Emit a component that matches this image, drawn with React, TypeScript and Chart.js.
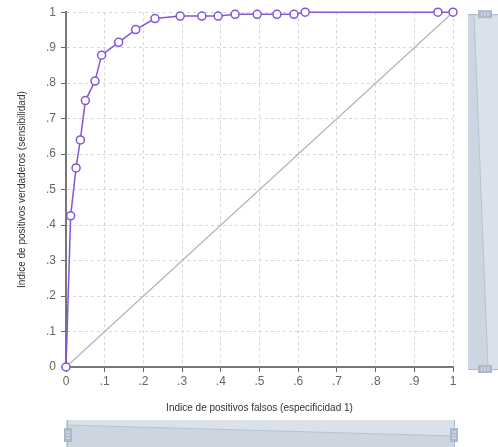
import React, { useEffect, useRef } from "react";
import { Chart, registerables } from "chart.js";

Chart.register(...registerables);

const fpr = [0, 0.012, 0.026, 0.037, 0.05, 0.075, 0.092, 0.136, 0.18, 0.23, 0.295, 0.351, 0.393, 0.437, 0.494, 0.545, 0.589, 0.618, 0.961, 1.0];
const tpr = [0, 0.426, 0.561, 0.64, 0.751, 0.806, 0.879, 0.915, 0.951, 0.982, 0.989, 0.989, 0.989, 0.994, 0.994, 0.994, 0.994, 1.0, 1.0, 1.0];
const diagX = [0, 1];
const diagY = [0, 1];
const xTitle = "Indice de positivos falsos (especificidad 1)";
const yTitle = "Indice de positivos verdaderos (sensibilidad)";

const fmt = (v: number) => {
  const r = Math.round(v * 10);
  if (r === 0) return "0";
  if (r === 10) return "1";
  return "." + r;
};

const FONT = "'Liberation Sans', Arial, sans-serif";

const sliderPlugin = {
  id: "sliders",
  afterDraw(chart: any) {
    const ctx = chart.ctx as CanvasRenderingContext2D;
    const area = chart.chartArea;
    ctx.save();
    // right slider
    const rx = area.right + 15;
    const rTop = area.top + 2;
    const rBot = area.bottom + 2;
    ctx.fillStyle = "#dbe1ea";
    ctx.fillRect(rx, rTop, 40, rBot - rTop);
    ctx.fillStyle = "#cdd5e0";
    ctx.beginPath();
    ctx.moveTo(rx, rTop);
    ctx.lineTo(rx + 6, rTop);
    ctx.lineTo(rx + 20, rBot);
    ctx.lineTo(rx, rBot);
    ctx.closePath();
    ctx.fill();
    ctx.strokeStyle = "#b9c3d1";
    ctx.lineWidth = 1;
    ctx.beginPath();
    ctx.moveTo(rx + 6, rTop);
    ctx.lineTo(rx + 20, rBot);
    ctx.stroke();
    ctx.strokeStyle = "#a9b7ca";
    ctx.beginPath();
    ctx.moveTo(rx, rTop + 0.5);
    ctx.lineTo(rx + 40, rTop + 0.5);
    ctx.moveTo(rx, rBot + 0.5);
    ctx.lineTo(rx + 40, rBot + 0.5);
    ctx.stroke();
    const drawHHandle = (cx: number, cy: number) => {
      ctx.fillStyle = "#aab9cd";
      ctx.fillRect(cx - 7, cy - 4, 14, 8);
      ctx.fillStyle = "#e6ebf2";
      for (let i = -1; i <= 1; i++) ctx.fillRect(cx + i * 3 - 0.5, cy - 2, 1, 4);
    };
    drawHHandle(rx + 17, rTop);
    drawHHandle(rx + 17, rBot);

    // bottom slider
    const bx0 = area.left;
    const bx1 = area.right + 1;
    const bTop = 420;
    const bBot = 460;
    ctx.fillStyle = "#dbe1ea";
    ctx.fillRect(bx0, bTop, bx1 - bx0, bBot - bTop);
    ctx.fillStyle = "#cdd5e0";
    ctx.beginPath();
    ctx.moveTo(bx0, bTop + 5);
    ctx.lineTo(bx1, bTop + 16);
    ctx.lineTo(bx1, bBot);
    ctx.lineTo(bx0, bBot);
    ctx.closePath();
    ctx.fill();
    ctx.strokeStyle = "#b9c3d1";
    ctx.beginPath();
    ctx.moveTo(bx0, bTop + 5);
    ctx.lineTo(bx1, bTop + 16);
    ctx.stroke();
    ctx.strokeStyle = "#a9b7ca";
    ctx.beginPath();
    ctx.moveTo(bx0 + 1.5, bTop);
    ctx.lineTo(bx0 + 1.5, bBot);
    ctx.moveTo(bx1 + 0.5, bTop);
    ctx.lineTo(bx1 + 0.5, bBot);
    ctx.stroke();
    const drawVHandle = (cx: number, cy: number) => {
      ctx.fillStyle = "#aab9cd";
      ctx.fillRect(cx - 4, cy - 7, 8, 14);
      ctx.fillStyle = "#e6ebf2";
      for (let i = -1; i <= 1; i++) ctx.fillRect(cx - 2, cy + i * 3 - 0.5, 4, 1);
    };
    drawVHandle(bx0 + 2, 435);
    drawVHandle(bx1, 435);
    ctx.restore();
  },
};

export default function App() {
  const ref = useRef<HTMLCanvasElement | null>(null);
  useEffect(() => {
    if (!ref.current) return;
    const roc = fpr.map((x, i) => ({ x, y: tpr[i] }));
    const diag = diagX.map((x, i) => ({ x, y: diagY[i] }));
    const chart = new Chart(ref.current, {
      type: "scatter",
      data: {
        datasets: [
          {
            data: roc,
            showLine: true,
            borderColor: "#8356d6",
            backgroundColor: "#ffffff",
            borderWidth: 1.5,
            pointRadius: 4,
            pointBorderWidth: 1.5,
            pointBorderColor: "#8356d6",
            pointBackgroundColor: "#ffffff",
            clip: false,
          } as any,
          {
            data: diag,
            showLine: true,
            borderColor: "#b3b3b3",
            borderWidth: 1.2,
            pointRadius: 0,
            clip: false,
          } as any,
        ],
      },
      options: {
        animation: false,
        responsive: true,
        maintainAspectRatio: false,
        layout: { padding: { left: 0, right: 45, top: 12, bottom: 32 } },
        plugins: { legend: { display: false }, tooltip: { enabled: false } },
        scales: {
          x: {
            type: "linear",
            min: 0,
            max: 1,
            afterFit: (s: any) => {
              s.height = 48;
            },
            ticks: {
              stepSize: 0.1,
              callback: (v: any) => fmt(Number(v)),
              color: "#666",
              font: { size: 12, family: FONT },
              padding: 2,
              maxRotation: 0,
            },
            grid: {
              color: "#d6d6d6",
              tickColor: "#666",
              tickLength: 5,
              tickBorderDash: [],
            },
            border: { color: "#777", width: 2, dash: [3, 3] },
            title: {
              display: true,
              text: xTitle,
              color: "#333",
              font: { size: 10, family: FONT },
              padding: { top: 0, bottom: 1 },
            },
          },
          y: {
            type: "linear",
            min: 0,
            max: 1,
            afterFit: (s: any) => {
              s.width = 66;
            },
            ticks: {
              stepSize: 0.1,
              callback: (v: any) => fmt(Number(v)),
              color: "#666",
              font: { size: 12, family: FONT },
              padding: 5,
            },
            grid: {
              color: "#d6d6d6",
              tickColor: "#666",
              tickLength: 5,
              tickBorderDash: [],
            },
            border: { color: "#777", width: 2, dash: [3, 3] },
            title: {
              display: true,
              text: yTitle,
              color: "#333",
              font: { size: 10, family: FONT },
              padding: { top: 16, bottom: 0 },
            },
          },
        },
      } as any,
      plugins: [sliderPlugin],
    });
    return () => chart.destroy();
  }, []);
  return (
    <div style={{ position: "fixed", left: 0, top: 0, width: 498, height: 447, background: "#fff" }}>
      <canvas ref={ref} />
    </div>
  );
}
